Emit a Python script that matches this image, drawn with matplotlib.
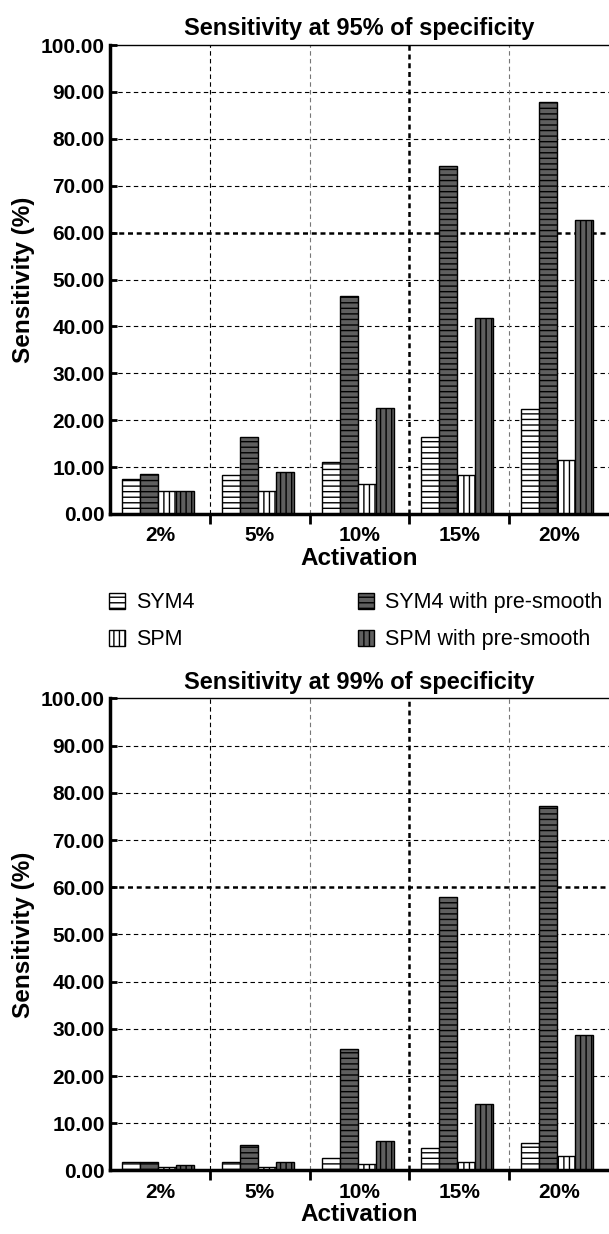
import numpy as np
import matplotlib.pyplot as plt
from matplotlib.patches import Patch

plt.rcParams['font.family'] = ['Liberation Sans', 'DejaVu Sans']
plt.rcParams['hatch.linewidth'] = 1.0

categorias = ['2%', '5%', '10%', '15%', '20%']
series = ['SYM4', 'SYM4 with pre-smooth', 'SPM', 'SPM with pre-smooth']

# Sensibilidade a 95% de especificidade
sym4_95 = [7.5, 8.3, 11.0, 16.5, 22.3]
sym4_pre_95 = [8.5, 16.5, 46.5, 74.3, 87.8]
spm_95 = [4.8, 4.8, 6.3, 8.3, 11.5]
spm_pre_95 = [5.0, 9.0, 22.5, 41.8, 62.7]

# Sensibilidade a 99% de especificidade
sym4_99 = [1.7, 1.7, 2.7, 4.8, 5.8]
sym4_pre_99 = [1.7, 5.3, 25.8, 58.0, 77.3]
spm_99 = [0.7, 0.7, 1.3, 1.7, 3.0]
spm_pre_99 = [1.1, 1.7, 6.2, 14.0, 28.7]

estilos = [('white', '---'), ('#5f5f5f', '---'), ('white', '|||'), ('#5f5f5f', '|||')]


def painel(ax, valores, titulo):
    x = np.arange(len(categorias))
    w = 0.18
    offs = [-1.5 * w, -0.5 * w, 0.5 * w, 1.5 * w]
    for v, o, (cor, h) in zip(valores, offs, estilos):
        ax.bar(x + o - 0.02, v, w, color=cor, hatch=h, edgecolor='black', linewidth=1.0)
    ax.set_xlim(-0.5, len(categorias) - 0.5)
    ax.set_ylim(0, 100)
    ax.set_yticks(np.arange(0, 101, 10))
    ax.set_yticklabels([f'{t:.2f}' for t in range(0, 101, 10)], fontsize=15, fontweight='bold')
    ax.set_xticks(x)
    ax.set_xticklabels(categorias, fontsize=15, fontweight='bold')
    ax.tick_params(axis='x', length=0, pad=9)
    ax.set_xticks(np.arange(0.5, len(categorias) - 0.5, 1), minor=True)
    ax.tick_params(axis='x', which='minor', length=7, width=2, direction='out')
    ax.tick_params(axis='y', length=5, width=2, direction='in', pad=4)
    # grade
    for yv in range(10, 100, 10):
        if yv == 60:
            ax.axhline(yv, color='black', lw=1.8, ls=(0, (2, 1.5)), zorder=0)
        else:
            ax.axhline(yv, color='black', lw=0.8, ls=(0, (4, 3)), zorder=0)
    for xv in np.arange(0.5, len(categorias) - 0.5, 1):
        if xv == 2.5:
            ax.axvline(xv, color='black', lw=1.8, ls=(0, (2, 1.5)), zorder=0)
        elif xv in (1.5, 3.5):
            ax.axvline(xv, color='#777777', lw=0.8, ls=(0, (4, 3)), zorder=0)
        else:
            ax.axvline(xv, color='black', lw=0.8, ls=(0, (4, 3)), zorder=0)
    ax.spines['left'].set_linewidth(2.5)
    ax.spines['bottom'].set_linewidth(2.5)
    ax.spines['top'].set_linewidth(1.0)
    ax.spines['right'].set_visible(False)
    ax.set_title(titulo, fontsize=17, fontweight='bold', pad=7)
    ax.set_xlabel('Activation', fontsize=17.5, fontweight='bold', labelpad=1)
    ax.set_ylabel('Sensitivity (%)', fontsize=17.5, fontweight='bold', labelpad=4)


fig = plt.figure(figsize=(6.09, 12.34), dpi=100)
ax1 = fig.add_axes([0.181, 0.5835, 0.819, 0.38])
ax2 = fig.add_axes([0.181, 0.0515, 0.819, 0.3825])

painel(ax1, [sym4_95, sym4_pre_95, spm_95, spm_pre_95], 'Sensitivity at 95% of specificity')
painel(ax2, [sym4_99, sym4_pre_99, spm_99, spm_pre_99], 'Sensitivity at 99% of specificity')

handles = [Patch(facecolor=c, hatch=h, edgecolor='black') for c, h in estilos]
fig.legend([handles[0], handles[2], handles[1], handles[3]],
           [series[0], series[2], series[1], series[3]],
           ncol=2, loc='upper left', bbox_to_anchor=(0.165, 0.527), frameon=False,
           fontsize=15.5, handlelength=0.75, handleheight=0.75, handletextpad=0.5,
           columnspacing=7.6, labelspacing=0.75, borderaxespad=0)

fig.savefig('out.png', dpi=100)
